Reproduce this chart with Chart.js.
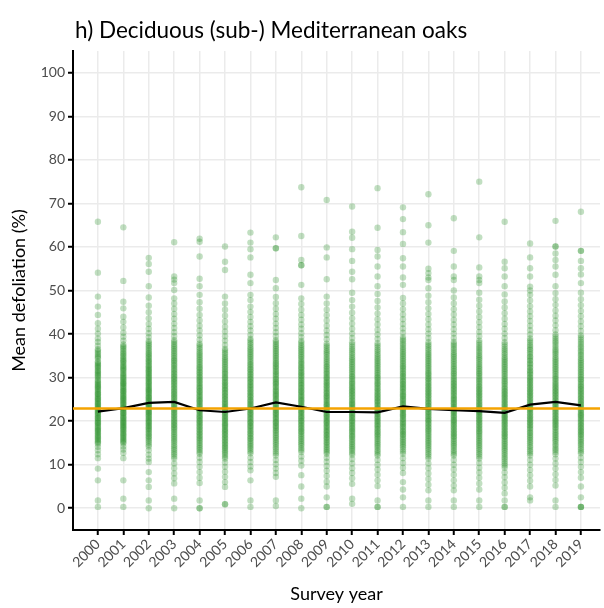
<!DOCTYPE html>
<html>
<head>
<meta charset="utf-8">
<script src="https://cdn.jsdelivr.net/npm/chart.js@4/dist/chart.umd.min.js"></script>
<style>
  html, body { margin: 0; padding: 0; background: #fff; }
  #wrap { width: 604px; height: 608px; }
</style>
</head>
<body>
<div id="wrap"><canvas id="myChart" width="604" height="608"></canvas></div>
<script>
const TITLE = 'h) Deciduous (sub-) Mediterranean oaks';

const years = [2000, 2001, 2002, 2003, 2004, 2005, 2006, 2007, 2008, 2009,
               2010, 2011, 2012, 2013, 2014, 2015, 2016, 2017, 2018, 2019];

const yTicks = [0, 10, 20, 30, 40, 50, 60, 70, 80, 90, 100];

// mean defoliation per year (black line)
const meanDefoliation = [22.2, 23.0, 24.2, 24.4, 22.5, 22.1, 22.9, 24.3, 23.3, 22.1,
                         22.1, 22.0, 23.4, 22.8, 22.5, 22.3, 21.9, 23.8, 24.4, 23.6];

// overall mean (orange line)
const overallMean = 22.9;

// plot values per year (green dots)
const y2000 = [65.8,54.1,48.6,46.3,44.4,42.5,41.2,40.1,39.0,38.2,37.3,36.5,35.8,35.0,34.4,33.7,33.1,32.5,31.8,31.2,30.6,30.0,29.5,28.9,28.3,27.8,27.2,26.6,26.1,25.5,25.0,24.4,23.9,23.3,22.8,22.2,21.7,21.1,20.6,20.0,19.5,18.9,18.3,17.8,17.2,16.6,16.0,15.4,14.8,14.1,13.3,12.4,11.5,9.1,6.4,1.8,0.3,
    36.2,35.4,34.7,33.4,32.8,32.2,31.5,30.9,30.3,29.2,28.6,28.0,27.5,26.9,26.3,25.8,25.2,24.7,24.1,23.6,23.0,22.5,21.9,21.4,20.8,20.3,19.7,19.2,18.6,18.0,17.5,16.9,16.3,15.7,15.1];
const y2001 = [64.5,52.2,47.4,45.9,44.0,42.8,41.5,40.3,39.4,38.5,37.6,36.9,36.1,35.4,34.7,34.0,33.4,32.7,32.1,31.5,30.8,30.2,29.6,29.0,28.5,27.9,27.3,26.8,26.2,25.6,25.1,24.5,24.0,23.4,22.9,22.3,21.8,21.2,20.7,20.1,19.6,19.0,18.5,17.9,17.3,16.7,16.1,15.5,14.9,14.2,13.5,12.7,11.5,6.4,2.2,0.3,
    37.2,36.5,35.7,35.0,34.3,33.7,33.0,32.4,31.8,31.1,30.5,29.9,29.3,28.7,28.2,27.6,27.0,26.5,25.9,25.3,24.8,24.2,23.7,23.1,22.6,22.0,21.5,20.9,20.4,19.8,19.3,18.7,18.2,17.6,17.0,16.4,15.8,15.2];
const y2002 = [57.5,56.1,54.3,51.0,48.4,46.5,45.0,43.6,42.3,41.2,40.2,39.3,38.4,37.6,36.8,36.0,35.3,34.6,33.9,33.3,32.6,32.0,31.4,30.8,30.2,29.6,29.0,28.4,27.8,27.2,26.7,26.1,25.5,25.0,24.4,23.8,23.3,22.7,22.1,21.6,21.0,20.4,19.8,19.2,18.6,18.0,17.3,16.6,15.9,15.1,14.2,13.3,12.3,11.4,10.6,8.3,6.4,4.9,1.8,0.0,
    38.0,37.2,36.4,35.6,34.9,34.2,33.6,32.9,32.3,31.7,31.1,30.5,29.9,29.3,28.7,28.1,27.5,27.0,26.4,25.8,25.3,24.7,24.1,23.6,23.0,22.4,21.9,21.3,20.7,20.1,19.5,18.9,18.3,17.7,17.0,16.3,15.5,14.6];
const y2003 = [61.1,53.2,52.5,51.7,50.1,48.2,47.0,45.8,44.6,43.5,42.4,41.4,40.4,39.5,38.6,37.7,36.9,36.1,35.3,34.5,33.8,33.0,32.3,31.6,30.9,30.2,29.5,28.8,28.1,27.4,26.7,26.0,25.3,24.6,23.9,23.2,22.5,21.8,21.1,20.4,19.7,19.0,18.3,17.5,16.7,15.9,15.1,14.2,13.3,12.4,11.4,10.3,9.2,8.0,6.9,5.7,2.2,0.0,
    38.2,37.3,36.5,35.7,34.9,34.1,33.4,32.7,31.9,31.2,30.5,29.8,29.1,28.4,27.7,27.0,26.3,25.6,24.9,24.2,23.5,22.8,22.1,21.4,20.7,20.0,19.3,18.6,17.9,17.1,16.3,15.5,14.6,13.7,12.8,11.9];
const y2004 = [61.9,61.2,57.8,52.7,51.0,49.0,47.3,45.8,44.4,43.1,41.9,40.8,39.7,38.7,37.8,36.9,36.0,35.2,34.4,33.6,32.8,32.1,31.3,30.6,29.9,29.2,28.5,27.8,27.1,26.5,25.8,25.1,24.5,23.8,23.2,22.5,21.9,21.2,20.6,19.9,19.3,18.6,17.9,17.2,16.5,15.8,15.0,14.2,13.4,12.5,11.6,10.6,9.5,8.3,7.0,5.8,1.8,0.0,0.0,
    37.4,36.5,35.6,34.8,34.0,33.2,32.4,31.7,31.0,30.2,29.5,28.8,28.1,27.5,26.8,26.1,25.5,24.8,24.2,23.5,22.8,22.2,21.5,20.9,20.2,19.6,18.9,18.2,17.5,16.8,16.1,15.4,14.6,13.8,12.9];
const y2005 = [60.1,56.6,54.7,48.6,47.0,45.6,44.2,42.9,41.7,40.6,39.5,38.5,37.5,36.6,35.7,34.8,34.0,33.2,32.4,31.6,30.9,30.1,29.4,28.7,28.0,27.3,26.6,25.9,25.2,24.5,23.9,23.2,22.6,21.9,21.3,20.6,20.0,19.3,18.7,18.0,17.4,16.7,16.0,15.3,14.6,13.9,13.1,12.3,11.4,10.5,9.5,8.4,7.2,6.0,4.9,0.9,0.9,
    36.2,35.3,34.4,33.6,32.8,32.0,31.2,30.5,29.8,29.0,28.3,27.6,27.0,26.3,25.6,24.9,24.2,23.5,22.9,22.2,21.6,20.9,20.3,19.6,19.0,18.3,17.7,17.0,16.3,15.6,14.9,14.2,13.5,12.7,11.8];
const y2006 = [63.3,61.0,59.5,57.6,53.6,51.7,49.0,47.8,46.3,45.1,43.9,42.8,41.8,40.8,39.8,38.9,38.0,37.1,36.3,35.5,34.7,33.9,33.1,32.4,31.7,30.9,30.2,29.5,28.8,28.1,27.4,26.7,26.0,25.4,24.7,24.0,23.4,22.7,22.0,21.4,20.7,20.0,19.4,18.7,18.0,17.3,16.6,15.9,15.1,14.3,13.5,12.6,11.6,10.6,9.6,8.7,6.4,1.8,0.3,
    38.5,37.6,36.7,35.9,35.1,34.3,33.5,32.8,32.0,31.3,30.6,29.8,29.1,28.4,27.8,27.1,26.4,25.7,25.0,24.4,23.7,23.0,22.4,21.7,21.0,20.4,19.7,19.0,18.4,17.7,17.0,16.2,15.5,14.7,13.9,13.0];
const y2007 = [62.2,59.7,59.7,52.4,50.5,48.5,47.1,45.8,44.6,43.5,42.4,41.4,40.4,39.5,38.6,37.7,36.9,36.1,35.3,34.5,33.7,33.0,32.3,31.5,30.8,30.1,29.4,28.7,28.0,27.3,26.7,26.0,25.3,24.7,24.0,23.3,22.7,22.0,21.4,20.7,20.0,19.4,18.7,18.0,17.3,16.5,15.7,14.9,14.0,13.1,12.1,11.1,10.1,9.1,8.1,7.2,1.8,0.5,
    38.2,37.3,36.5,35.7,34.9,34.1,33.3,32.6,31.9,31.2,30.5,29.7,29.0,28.4,27.7,27.0,26.3,25.7,25.0,24.3,23.7,23.0,22.4,21.7,21.0,20.4,19.7,19.0,18.4,17.7,16.9,16.1,15.3,14.5,13.6,12.6];
const y2008 = [73.7,62.5,57.0,55.8,55.8,51.3,48.2,46.9,45.6,44.4,43.3,42.2,41.2,40.2,39.3,38.4,37.5,36.7,35.9,35.1,34.3,33.5,32.8,32.1,31.3,30.6,29.9,29.2,28.5,27.8,27.1,26.5,25.8,25.1,24.5,23.8,23.2,22.5,21.9,21.2,20.6,19.9,19.2,18.5,17.8,17.1,16.3,15.5,14.7,13.8,12.9,11.9,10.9,9.8,7.6,5.0,2.2,0.0,
    38.0,37.1,36.3,35.5,34.7,33.9,33.2,32.4,31.7,31.0,30.3,29.5,28.8,28.2,27.5,26.8,26.1,25.5,24.8,24.2,23.5,22.9,22.2,21.6,20.9,20.2,19.6,18.9,18.2,17.5,16.7,15.9,15.1,14.3,13.4];
const y2009 = [70.8,59.9,57.6,52.6,48.6,47.0,45.6,44.3,43.1,41.9,40.8,39.8,38.8,37.8,36.9,36.0,35.2,34.3,33.5,32.7,32.0,31.2,30.5,29.8,29.0,28.3,27.6,26.9,26.3,25.6,24.9,24.2,23.6,22.9,22.3,21.6,21.0,20.3,19.7,19.0,18.4,17.7,17.0,16.3,15.6,14.9,14.1,13.3,12.5,11.6,10.7,9.7,8.6,7.4,6.1,5.0,2.5,0.3,0.3,
    37.3,36.4,35.6,34.7,33.9,33.1,32.4,31.6,30.9,30.1,29.4,28.7,28.0,27.3,26.6,25.9,25.3,24.6,23.9,23.3,22.6,22.0,21.3,20.7,20.0,19.4,18.7,18.0,17.4,16.7,16.0,15.2,14.5,13.7,12.9];
const y2010 = [69.3,63.5,62.1,59.5,56.8,54.3,52.6,49.5,47.8,46.3,44.9,43.6,42.4,41.2,40.1,39.1,38.1,37.1,36.2,35.3,34.4,33.6,32.8,32.0,31.2,30.4,29.7,28.9,28.2,27.5,26.8,26.1,25.4,24.7,24.0,23.3,22.6,21.9,21.3,20.6,19.9,19.2,18.5,17.8,17.1,16.4,15.6,14.8,14.0,13.2,12.3,11.3,10.3,9.2,8.1,6.9,5.6,2.2,1.0,
    37.6,36.6,35.7,34.8,34.0,33.2,32.4,31.6,30.8,30.1,29.3,28.6,27.8,27.1,26.4,25.7,25.0,24.3,23.7,23.0,22.3,21.6,20.9,20.2,19.6,18.9,18.2,17.5,16.7,16.0,15.2,14.4,13.6,12.7];
const y2011 = [73.5,64.4,59.3,57.8,55.5,53.2,51.0,49.2,47.6,46.1,44.7,43.4,42.2,41.0,39.9,38.9,37.9,36.9,36.0,35.1,34.2,33.4,32.6,31.8,31.0,30.2,29.5,28.7,28.0,27.3,26.6,25.9,25.2,24.5,23.8,23.1,22.5,21.8,21.1,20.5,19.8,19.1,18.4,17.7,17.0,16.3,15.5,14.7,13.9,13.0,12.1,11.1,10.0,8.9,7.7,6.4,5.1,1.8,0.3,0.3,
    37.4,36.4,35.5,34.6,33.8,33.0,32.2,31.4,30.6,29.9,29.1,28.4,27.6,26.9,26.2,25.5,24.8,24.2,23.5,22.8,22.1,21.5,20.8,20.1,19.4,18.8,18.1,17.4,16.7,15.9,15.1,14.3,13.4,12.5];
const y2012 = [69.1,66.4,63.4,60.7,57.4,55.5,53.0,51.3,48.3,47.0,45.7,44.5,43.4,42.3,41.3,40.3,39.3,38.4,37.5,36.6,35.8,35.0,34.2,33.4,32.6,31.9,31.1,30.4,29.7,29.0,28.3,27.6,26.9,26.2,25.6,24.9,24.2,23.6,22.9,22.3,21.6,21.0,20.3,19.6,18.9,18.2,17.5,16.8,16.0,15.2,14.4,13.5,12.5,11.5,10.4,9.3,8.1,6.0,4.3,2.5,0.3,
    38.8,37.9,37.0,36.2,35.4,34.6,33.8,33.0,32.3,31.5,30.8,30.1,29.3,28.6,27.9,27.3,26.6,25.9,25.2,24.6,23.9,23.2,22.6,21.9,21.3,20.6,19.9,19.3,18.6,17.8,17.1,16.4,15.6,14.8,14.0,13.0];
const y2013 = [72.1,65.0,61.0,55.0,54.0,53.0,52.4,50.5,48.8,47.3,45.9,44.6,43.4,42.2,41.1,40.1,39.1,38.1,37.2,36.3,35.4,34.6,33.8,33.0,32.2,31.4,30.7,29.9,29.2,28.5,27.8,27.1,26.4,25.7,25.0,24.3,23.6,22.9,22.2,21.6,20.9,20.2,19.5,18.8,18.1,17.4,16.6,15.8,15.0,14.2,13.3,12.4,11.4,10.3,9.2,8.0,6.7,5.4,4.1,1.8,0.3,
    37.6,36.7,35.8,35.0,34.2,33.4,32.6,31.8,31.0,30.3,29.6,28.8,28.1,27.4,26.7,26.0,25.3,24.6,24.0,23.3,22.6,21.9,21.2,20.5,19.9,19.2,18.5,17.8,17.0,16.2,15.4,14.6,13.7,12.8,11.9];
const y2014 = [66.6,59.1,55.5,53.2,52.4,50.0,48.4,47.0,45.7,44.5,43.3,42.2,41.1,40.1,39.1,38.2,37.3,36.4,35.5,34.7,33.9,33.1,32.3,31.5,30.8,30.0,29.3,28.6,27.9,27.2,26.5,25.8,25.1,24.4,23.8,23.1,22.4,21.8,21.1,20.4,19.8,19.1,18.4,17.7,17.0,16.3,15.5,14.7,13.9,13.0,12.1,11.1,10.0,8.9,7.7,6.4,5.2,4.1,1.8,0.3,
    37.7,36.8,35.9,35.1,34.3,33.5,32.7,31.9,31.1,30.4,29.6,28.9,28.2,27.5,26.8,26.1,25.4,24.8,24.1,23.4,22.8,22.1,21.4,20.8,20.1,19.4,18.7,18.0,17.3,16.6,15.9,15.1,14.3,13.4,12.5];
const y2015 = [75.0,62.2,55.3,53.2,52.4,51.7,49.5,47.9,46.5,45.2,43.9,42.7,41.6,40.5,39.5,38.5,37.5,36.6,35.7,34.8,34.0,33.1,32.3,31.5,30.8,30.0,29.3,28.5,27.8,27.1,26.4,25.7,25.0,24.3,23.6,22.9,22.2,21.6,20.9,20.2,19.5,18.8,18.1,17.4,16.6,15.8,15.0,14.2,13.3,12.4,11.4,10.4,9.3,8.2,7.0,5.7,4.3,1.8,0.3,
    38.0,37.0,36.1,35.2,34.4,33.5,32.7,31.9,31.1,30.4,29.6,28.9,28.1,27.4,26.7,26.0,25.3,24.6,23.9,23.2,22.5,21.9,21.2,20.5,19.8,19.1,18.4,17.7,17.0,16.2,15.4,14.6,13.7,12.8,11.9];
const y2016 = [65.8,56.6,55.1,53.2,51.0,49.1,47.5,46.1,44.8,43.5,42.3,41.2,40.1,39.1,38.1,37.1,36.2,35.3,34.4,33.6,32.8,32.0,31.2,30.4,29.6,28.9,28.1,27.4,26.7,26.0,25.3,24.6,23.9,23.2,22.5,21.8,21.1,20.5,19.8,19.1,18.4,17.7,17.0,16.3,15.5,14.7,13.9,13.1,12.2,11.3,10.3,9.3,8.2,7.1,5.9,4.7,3.4,1.8,0.3,0.3,
    37.6,36.6,35.7,34.8,34.0,33.2,32.4,31.6,30.8,30.0,29.2,28.5,27.7,27.0,26.3,25.6,24.9,24.2,23.5,22.8,22.1,21.4,20.8,20.1,19.4,18.7,18.0,17.3,16.6,15.9,15.1,14.3,13.5,12.6,11.7,10.8,9.8];
const y2017 = [60.8,57.6,55.1,53.2,50.9,50.0,49.0,47.7,46.4,45.2,44.1,43.0,41.9,40.9,39.9,39.0,38.0,37.1,36.3,35.4,34.6,33.8,33.0,32.2,31.4,30.7,29.9,29.2,28.5,27.8,27.1,26.4,25.7,25.0,24.3,23.6,22.9,22.3,21.6,20.9,20.2,19.5,18.8,18.1,17.3,16.5,15.7,14.9,14.0,13.1,12.1,11.1,10.0,8.8,7.6,6.3,5.0,2.5,1.8,
    38.5,37.5,36.6,35.8,34.9,34.1,33.3,32.5,31.7,31.0,30.2,29.5,28.8,28.1,27.4,26.7,26.0,25.3,24.6,23.9,23.2,22.6,21.9,21.2,20.5,19.8,19.1,18.4,17.6,16.9,16.1,15.3,14.4,13.5,12.6];
const y2018 = [66.0,60.1,60.1,58.5,57.0,55.5,53.6,51.0,49.4,48.0,46.7,45.4,44.2,43.1,42.0,40.9,39.9,38.9,38.0,37.0,36.1,35.3,34.4,33.6,32.8,32.0,31.2,30.4,29.7,28.9,28.2,27.5,26.8,26.1,25.4,24.7,24.0,23.3,22.6,21.9,21.2,20.5,19.8,19.1,18.4,17.6,16.8,16.0,15.2,14.3,13.4,12.4,11.4,10.3,9.1,7.8,6.5,5.2,1.8,0.3,
    39.4,38.4,37.5,36.5,35.7,34.8,34.0,33.2,32.4,31.6,30.8,30.0,29.3,28.5,27.8,27.1,26.4,25.7,25.0,24.3,23.6,22.9,22.2,21.5,20.8,20.1,19.4,18.7,18.0,17.2,16.4,15.6,14.7,13.8,12.9];
const y2019 = [68.1,59.1,59.1,56.8,55.1,53.7,51.7,49.5,48.0,46.6,45.3,44.1,42.9,41.8,40.7,39.7,38.7,37.7,36.8,35.9,35.0,34.1,33.3,32.5,31.7,30.9,30.1,29.4,28.6,27.9,27.2,26.5,25.8,25.1,24.4,23.7,23.0,22.3,21.6,21.0,20.3,19.6,18.9,18.2,17.5,16.8,16.0,15.2,14.4,13.5,12.6,11.6,10.6,9.5,8.3,7.0,5.0,2.5,0.3,0.3,0.3,
    39.2,38.2,37.2,36.3,35.4,34.5,33.7,32.9,32.1,31.3,30.5,29.7,29.0,28.2,27.5,26.8,26.1,25.4,24.7,24.0,23.3,22.6,21.9,21.3,20.6,19.9,19.2,18.5,17.8,17.1,16.4,15.6,14.8,13.9,13.0];

const plotValues = [y2000, y2001, y2002, y2003, y2004, y2005, y2006, y2007, y2008, y2009,
                    y2010, y2011, y2012, y2013, y2014, y2015, y2016, y2017, y2018, y2019];

const FONT = "Lato, 'DejaVu Sans Condensed', sans-serif";
const X_MIN = 1999.02;
const X_MAX = 2019.75;

Chart.defaults.font.family = FONT;

const dots = [];
years.forEach((yr, i) => {
    plotValues[i].forEach(v => dots.push({ x: yr, y: v }));
});

const titlePlugin = {
    id: 'plotTitle',
    afterDraw(chart) {
        const ctx = chart.ctx;
        ctx.save();
        ctx.font = '22.5px ' + FONT;
        ctx.fillStyle = '#000';
        ctx.textBaseline = 'alphabetic';
        ctx.fillText(TITLE, chart.chartArea.left + 2, 38);
        ctx.restore();
    }
};

var ctx = document.getElementById('myChart');
var myChart = new Chart(ctx, {
    type: 'scatter',
    data: {
        datasets: [{
            type: 'line',
            label: 'overall mean',
            data: [{ x: X_MIN, y: overallMean }, { x: X_MAX, y: overallMean }],
            borderColor: '#F5A300',
            borderWidth: 2.5,
            pointRadius: 0,
            order: 0
        }, {
            type: 'line',
            label: 'annual mean',
            data: years.map((yr, i) => ({ x: yr, y: meanDefoliation[i] })),
            borderColor: '#000',
            borderWidth: 2.2,
            pointRadius: 0,
            tension: 0,
            order: 1
        }, {
            label: 'plots',
            data: dots,
            backgroundColor: 'rgba(34,139,34,0.28)',
            borderWidth: 0,
            pointRadius: 3.2,
            order: 2
        }]
    },
    options: {
        responsive: false,
        animation: false,
        layout: { padding: { top: 51, left: 0, right: 1, bottom: 0 } },
        plugins: {
            legend: { display: false },
            tooltip: { enabled: false }
        },
        scales: {
            x: {
                type: 'linear',
                min: X_MIN,
                max: X_MAX,
                afterBuildTicks: s => { s.ticks = years.map(v => ({ value: v })); },
                afterFit: s => { s.height = 78; },
                ticks: {
                    autoSkip: false,
                    minRotation: 45,
                    maxRotation: 45,
                    color: '#4d4d4d',
                    font: { size: 14 },
                    padding: 1,
                    callback: v => String(v)
                },
                grid: { color: '#ebebeb', lineWidth: 1.5, tickLength: 5, tickColor: '#000', tickWidth: 2 },
                border: { color: '#000', width: 2 },
                title: { display: true, text: 'Survey year', color: '#000', font: { size: 18 }, padding: { top: 2, bottom: 3 } }
            },
            y: {
                type: 'linear',
                min: -5,
                max: 105,
                afterBuildTicks: s => { s.ticks = yTicks.map(v => ({ value: v })); },
                afterFit: s => { s.width = 73; },
                ticks: { color: '#4d4d4d', font: { size: 14 }, padding: 3 },
                grid: { color: '#ebebeb', lineWidth: 1.5, tickLength: 5, tickColor: '#000', tickWidth: 2 },
                border: { color: '#000', width: 2 },
                title: { display: true, text: 'Mean defoliation (%)', color: '#000', font: { size: 18 }, padding: { top: 8, bottom: 0 } }
            }
        }
    },
    plugins: [titlePlugin]
});
</script>
</body>
</html>
